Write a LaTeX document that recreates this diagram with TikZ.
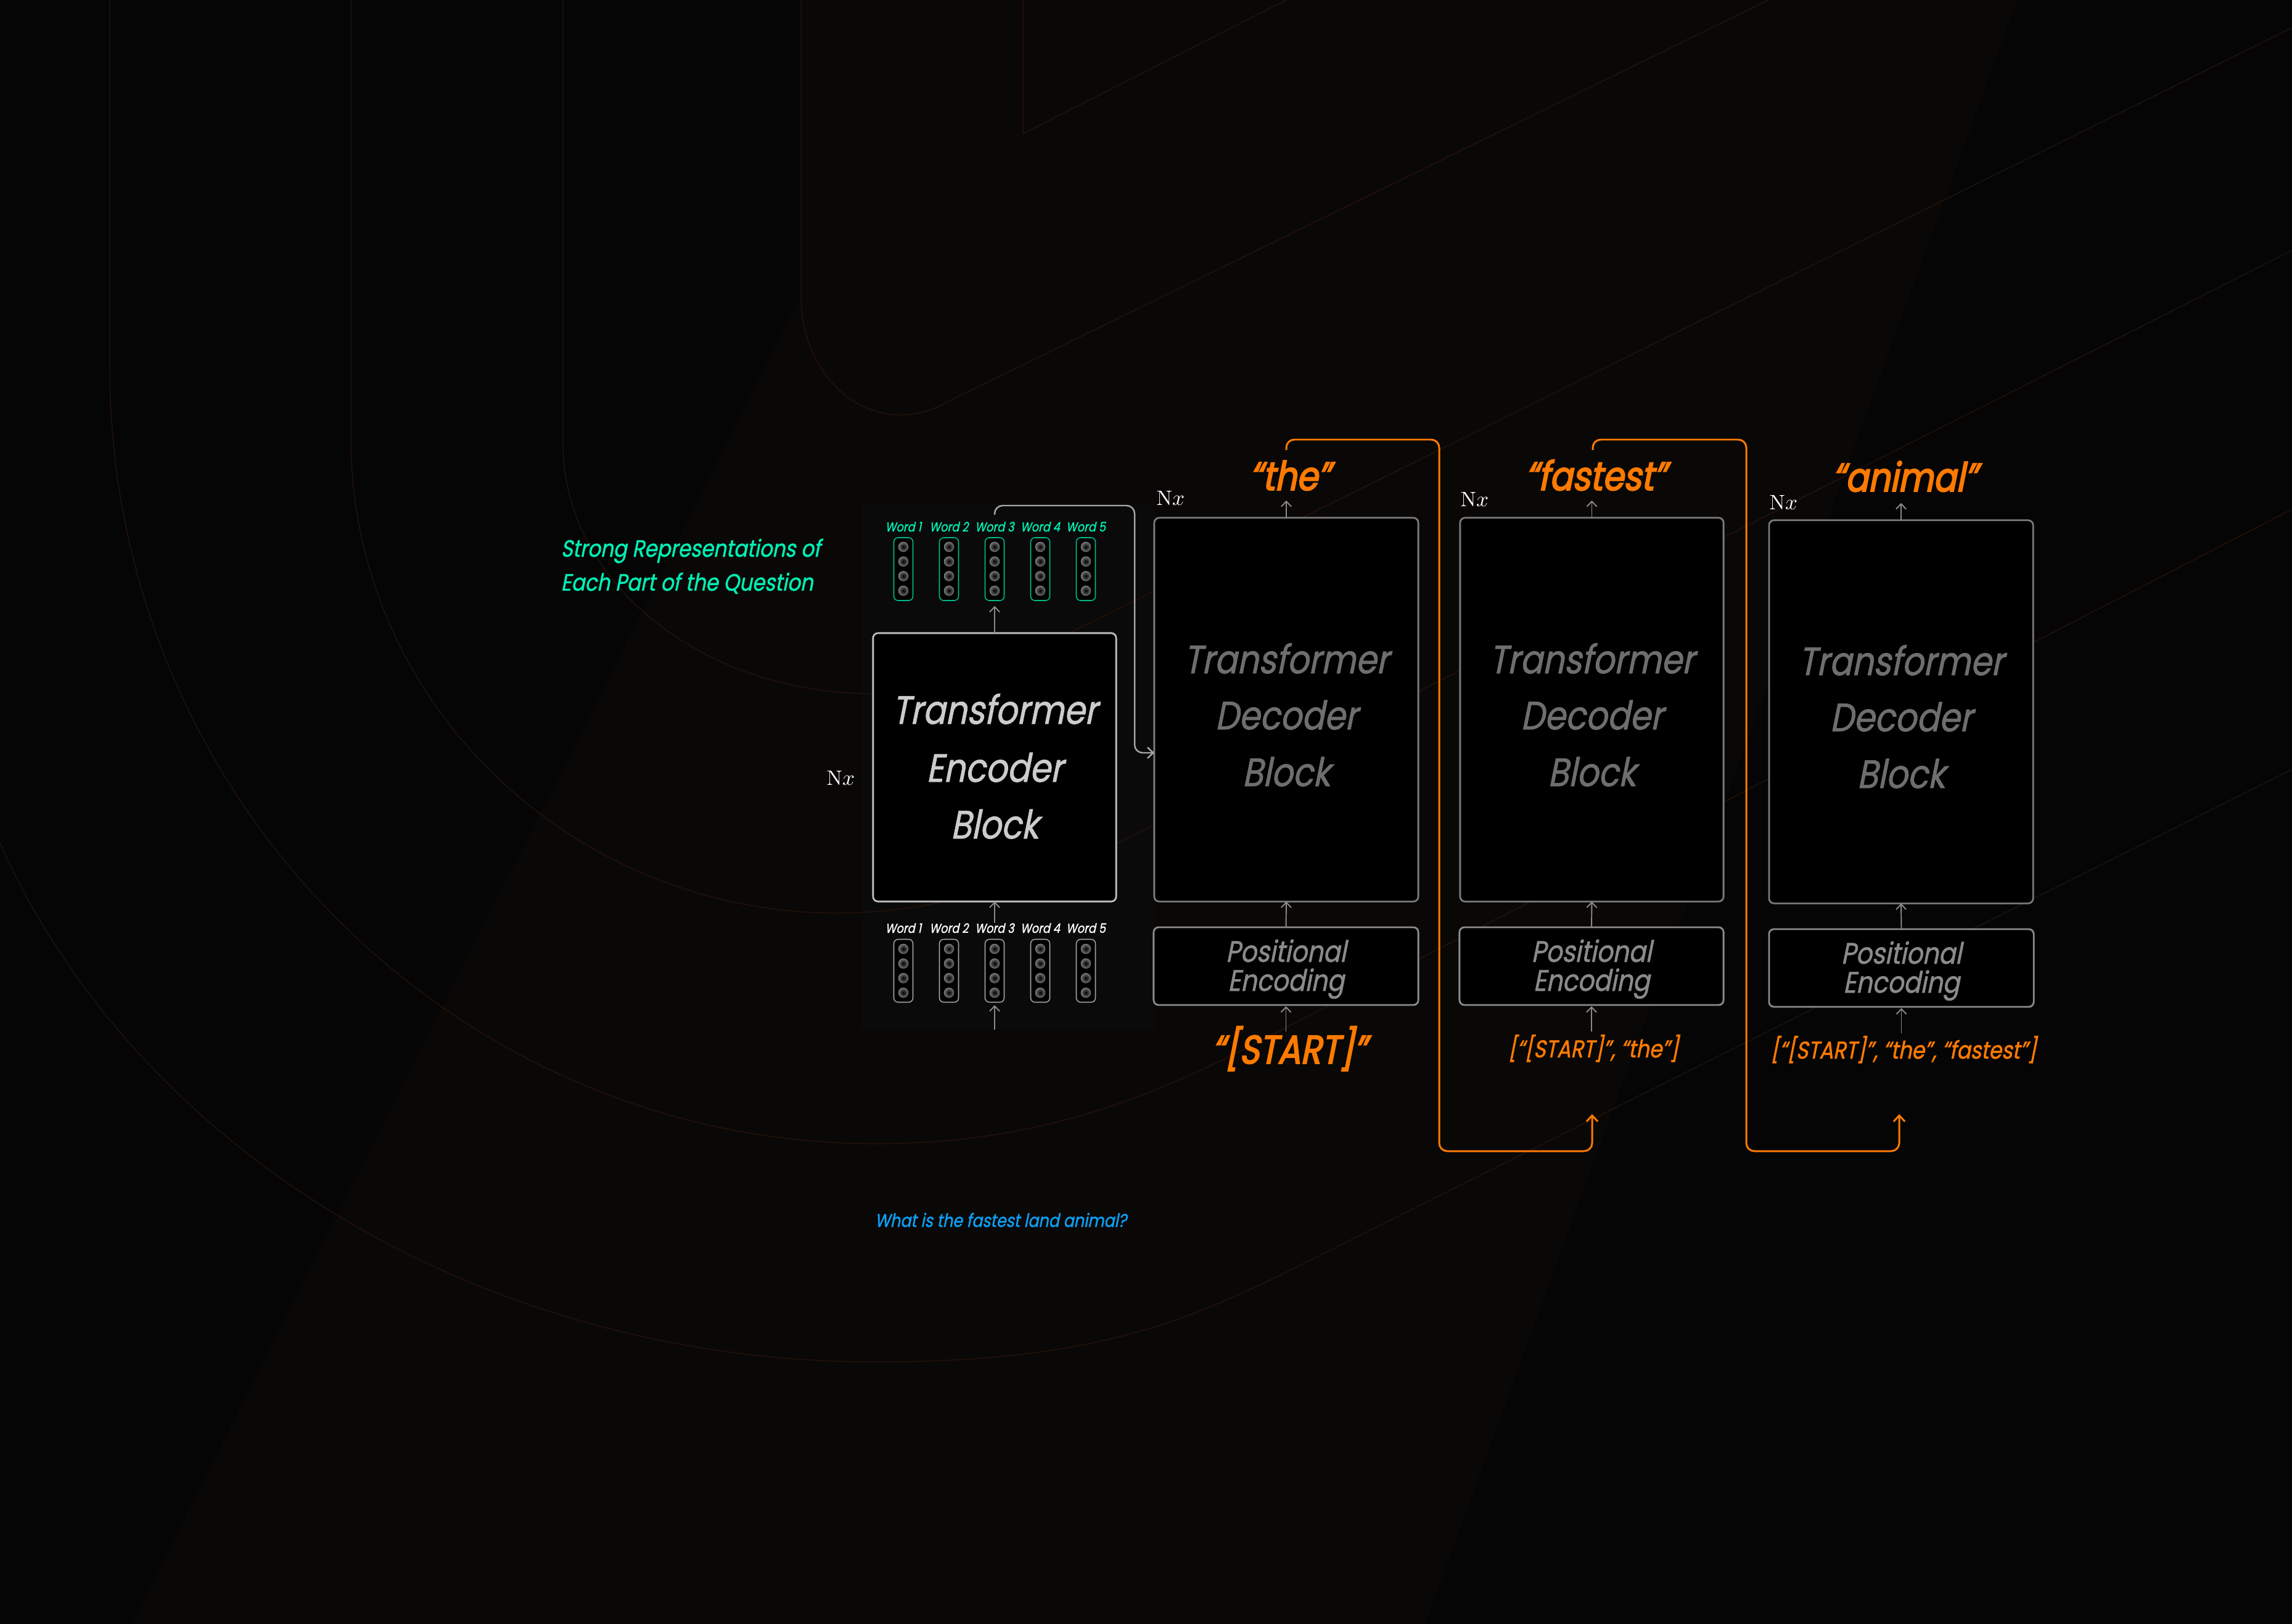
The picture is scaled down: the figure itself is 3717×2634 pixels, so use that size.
\documentclass[tikz,border=0pt]{standalone}
\usepackage{fontspec}
\usetikzlibrary{arrows.meta,calc}
\newfontfamily\fut[FakeStretch=0.85,FakeSlant=0.2,FakeBold=1.2]{Poppins}
\newfontfamily\futb[FakeStretch=0.85,FakeSlant=0.2,FakeBold=3]{Poppins}
\definecolor{bgc}{HTML}{050505}
\definecolor{bglight}{HTML}{0A0807}
\definecolor{bgpanel}{HTML}{0A0A0A}
\definecolor{bgline}{HTML}{2A140A}
\definecolor{mint}{HTML}{00F0B4}
\definecolor{mintbox}{HTML}{00B888}
\definecolor{orng}{HTML}{FF7A00}
\definecolor{qblue}{HTML}{0AA0F5}
\definecolor{encline}{HTML}{BDBDBD}
\definecolor{enctext}{HTML}{CCCCCC}
\definecolor{decline}{HTML}{7A7A7A}
\definecolor{dectext}{HTML}{6E6E6E}
\definecolor{peline}{HTML}{8C8C8C}
\definecolor{petext}{HTML}{8A8A8A}
\definecolor{arrgray}{HTML}{8A8A8A}
\definecolor{connc}{HTML}{A8A8A8}
\definecolor{vecline}{HTML}{A0A0A0}
\definecolor{dotg}{HTML}{8A8A8A}
\definecolor{dotmid}{HTML}{555555}
\definecolor{dotdark}{HTML}{151515}
\pgfdeclareradialshading{vdot}{\pgfpoint{0bp}{0bp}}{color(0bp)=(black); color(5bp)=(dotdark); color(18bp)=(dotmid); color(28bp)=(dotg); color(50bp)=(dotg)}
\begin{document}
\begin{tikzpicture}[x=0.01cm,y=-0.01cm,
  box/.style={draw, fill=black, rounded corners=0.8mm, line width=0.8pt, inner sep=0pt, outer sep=0pt},
  gar/.style={draw=arrgray, line width=0.55pt, -{Straight Barb[length=2.4pt,width=4.6pt]}},
  oloop/.style={draw=orng, line width=0.85pt, rounded corners=1.3mm, -{Straight Barb[length=2.8pt,width=5.2pt]}},
  conn/.style={draw=connc, line width=0.7pt, rounded corners=1.3mm, -{Straight Barb[length=2.6pt,width=5pt]}},
  bgl/.style={draw=bgline, line width=0.32pt},
  txt/.style={anchor=base, inner sep=0pt},
  wlabel/.style={anchor=base, inner sep=0pt, font=\fut\fontsize{6}{7}\selectfont},
  vecbox/.style={draw, fill=black, line width=0.45pt, rounded corners=0.7mm, minimum width=0.31cm, minimum height=1.02cm, inner sep=0pt},
  bigtxt/.style={txt, font=\fut\fontsize{18.2}{20}\selectfont},
  petxt/.style={txt, text=petext, font=\fut\fontsize{13.6}{15}\selectfont},
  otxt/.style={txt, text=orng, font=\futb\fontsize{18.4}{20}\selectfont},
  listtxt/.style={txt, text=orng, font=\fut\fontsize{11.2}{12}\selectfont},
  nx/.style={anchor=base west, inner sep=0pt, text=white, font=\fontsize{9.6}{11}\selectfont}
]
\useasboundingbox (0,0) rectangle (3717,2634);
% ---------- background ----------
\fill[bgc] (0,0) rectangle (3717,2634);
\fill[bglight] (213,2634) -- (1299,481) -- (1299,0) -- (3271,0) -- (2311,2634) -- cycle;
\fill[bgpanel] (1398,817) rectangle (1872,1670);
\begin{scope}
\clip (0,0) rectangle (3717,2634);
\draw[bgl] (913,-5) -- (913,720) .. controls (913,944) and (1138,1125) .. (1415,1125)
   .. controls (1500,1125) and (1600,1093) .. (1754,1017) -- (3717,45);
\draw[bgl] (569,-5) -- (569,711) .. controls (569,1136) and (923,1481) .. (1360,1481)
   .. controls (1520,1481) and (1700,1425) .. (1840,1354) -- (3717,406);
\draw[bgl] (178,-5) -- (178,596) .. controls (178,1291) and (735,1855) .. (1422,1855)
   .. controls (1750,1855) and (1950,1736) .. (2145,1636) -- (3717,826);
\draw[bgl] (-100,900) .. controls (-100,1623) and (582,2209) .. (1422,2209)
   .. controls (1800,2209) and (1950,2131) .. (2133,2040) -- (3717,1248);
\draw[bgl] (1299,-5) -- (1299,481) .. controls (1299,620) and (1420,720) .. (1540,650) -- (2868,0);
\draw[bgl] (1659,-5) -- (1659,217) -- (2086,0);
\end{scope}
% ---------- encoder ----------
\node[box, draw=encline, minimum width=3.94cm, minimum height=4.35cm] (enc) at (1613,1244.5) {};
\node[bigtxt, text=enctext] (enc1) at (1613,1174) {Transformer};
\node[bigtxt, text=enctext] (enc2) at (1613,1268) {Encoder};
\node[bigtxt, text=enctext] (enc3) at (1613,1360) {Block};
\node[nx] (nxe) at (1340,1273) {$\mathrm{N}x$};
% word vectors
\foreach \i/\x in {1/1465,2/1539,3/1613,4/1687,5/1761}{
  \node[wlabel, text=mint] (tw\i) at (\x,862) {Word \i};
  \node[vecbox, draw=mintbox] (tv\i) at (\x,923) {};
  \foreach \k in {0,...,3}{\shade[shading=vdot] (\x,{887+\k*23.7}) circle (0.083cm);}
  \node[wlabel, text=white] (bw\i) at (\x,1513) {Word \i};
  \node[vecbox, draw=vecline] (bv\i) at (\x,1574.5) {};
  \foreach \k in {0,...,3}{\shade[shading=vdot] (\x,{1539+\k*23.7}) circle (0.083cm);}
}
\node[txt, anchor=base west, text=mint, font=\fut\fontsize{10.9}{12}\selectfont] (rep1) at (909,903) {Strong Representations of};
\node[txt, anchor=base west, text=mint, font=\fut\fontsize{10.9}{12}\selectfont] (rep2) at (909,958) {Each Part of the Question};
\node[txt, text=qblue, font=\fut\fontsize{8.5}{10}\selectfont] (q) at (1623,1990) {What is the fastest land animal?};
\coordinate (bin) at (1613,1670);
\draw[gar, shorten >=0.04cm] (bin) -- (bv3.south);
\draw[gar] (bw3.north) -- (enc.south);
\draw[gar, shorten >=0.08cm] (enc.north) -- (tv3.south);
% ---------- decoders ----------
\node[box, draw=decline, minimum width=4.28cm, minimum height=6.22cm] (d1) at (2086,1151) {};
\node[box, draw=decline, minimum width=4.27cm, minimum height=6.22cm] (d2) at (2581.5,1151) {};
\node[box, draw=decline, minimum width=4.28cm, minimum height=6.21cm] (d3) at (3083,1154.5) {};
\foreach \n/\x/\y in {1/2086/1092,2/2581.5/1092,3/3083/1095}{
  \node[bigtxt, text=dectext] (d\n a) at (\x,\y) {Transformer};
  \node[bigtxt, text=dectext] (d\n b) at (\x,\y+91) {Decoder};
  \node[bigtxt, text=dectext] (d\n c) at (\x,\y+183) {Block};
}
\node[box, draw=peline, minimum width=4.29cm, minimum height=1.26cm] (pe1) at (2085.5,1567) {};
\node[box, draw=peline, minimum width=4.28cm, minimum height=1.26cm] (pe2) at (2581,1567) {};
\node[box, draw=peline, minimum width=4.29cm, minimum height=1.26cm] (pe3) at (3083.5,1570) {};
\foreach \n/\x/\y in {1/2085.5/1560,2/2581/1560,3/3083.5/1563}{
  \node[petxt] (pe\n a) at (\x,\y) {Positional};
  \node[petxt] (pe\n b) at (\x,\y+47) {Encoding};
}
\node[nx] (nx1) at (1875,820) {$\mathrm{N}x$};
\node[nx] (nx2) at (2368,822) {$\mathrm{N}x$};
\node[nx] (nx3) at (2869,827) {$\mathrm{N}x$};
% outputs and inputs
\node[otxt] (o1) at (2092,795) {“the”};
\node[otxt] (o2) at (2588,795) {“fastest”};
\node[otxt] (o3) at (3089,797) {“animal”};
\node[otxt] (in1) at (2091,1725) {“[START]”};
\node[listtxt] (in2) at (2584,1715) {[“[START]”, “the”]};
\node[listtxt] (in3) at (3087,1717) {[“[START]”, “the”, “fastest”]};
% gray arrows
\foreach \n in {1,2,3}{
  \draw[gar] (d\n.north) -- ($(d\n.north)+(0,-28)$);
  \draw[gar] (pe\n.north) -- (d\n.south);
  \draw[gar, shorten >=0.02cm] ($(pe\n.south)+(0,43)$) -- (pe\n.south);
}
% encoder -> decoder connector
\coordinate (c0) at (1613,835);
\coordinate (c1) at (d1.west |- 0,1221);
\draw[conn] (c0) -- (1613,820) -- (1840,820) -- (1840,1221) -- (c1);
% orange feedback loops
\coordinate (l1a) at (2086,730);
\coordinate (l1b) at (2582,1807);
\coordinate (l2a) at (2583,730);
\coordinate (l2b) at (3080,1807);
\draw[oloop] (l1a) -- (2086,713) -- (2334,713) -- (2334,1867) -- (2582,1867) -- (l1b);
\draw[oloop] (l2a) -- (2583,713) -- (2832,713) -- (2832,1867) -- (3080,1867) -- (l2b);
\end{tikzpicture}
\end{document}
